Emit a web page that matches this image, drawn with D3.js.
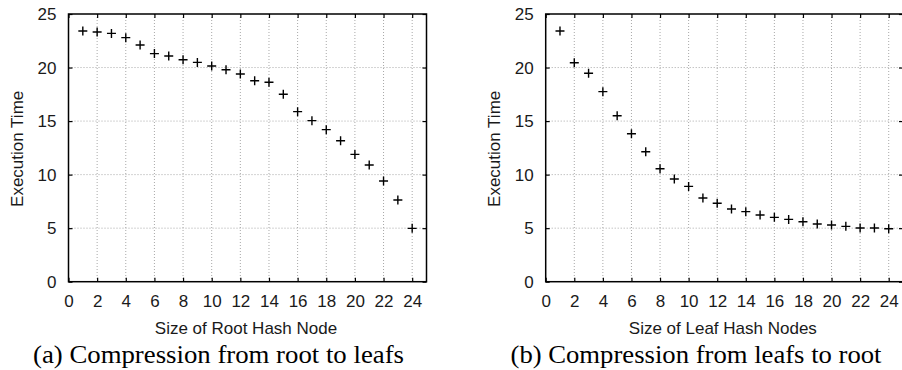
<!DOCTYPE html>
<html>
<head>
<meta charset="utf-8">
<script src="https://cdn.jsdelivr.net/npm/d3@7"></script>
<style>
  body { margin: 0; background: #fff; }
  svg { display: block; }
</style>
</head>
<body>
<div id="chart"></div>
<script>
// values
const sizes = [1, 2, 3, 4, 5, 6, 7, 8, 9, 10, 11, 12, 13, 14, 15, 16, 17, 18, 19, 20, 21, 22, 23, 24];
const rootToLeafTime = [23.41, 23.32, 23.19, 22.79, 22.10, 21.30, 21.08, 20.73, 20.48, 20.14, 19.80, 19.40,
  18.77, 18.62, 17.50, 15.88, 15.04, 14.20, 13.17, 11.89, 10.90, 9.40, 7.63, 4.98];
const leafToRootTime = [23.41, 20.45, 19.46, 17.75, 15.50, 13.82, 12.14, 10.55, 9.59, 8.90, 7.81, 7.32,
  6.79, 6.54, 6.23, 6.01, 5.82, 5.60, 5.39, 5.29, 5.17, 5.01, 5.01, 4.95];
const xTicks = [0, 2, 4, 6, 8, 10, 12, 14, 16, 18, 20, 22, 24];
const yTicks = [0, 5, 10, 15, 20, 25];
const yLabel = "Execution Time";
const xLabels = ["Size of Root Hash Node", "Size of Leaf Hash Nodes"];
const captions = ["(a) Compression from root to leafs", "(b) Compression from leafs to root"];

const width = 902, height = 370;
const sans = "'Liberation Sans', Arial, sans-serif";
const serif = "'Liberation Serif', 'Times New Roman', serif";
const ink = "#1a1a1a";

const svg = d3.select("#chart").append("svg")
  .attr("width", width).attr("height", height);
svg.append("rect").attr("width", width).attr("height", height).attr("fill", "#fff");

const drawPanel = (left, right, values, xLabel, caption, captionX) => {
  const top = 14, bottom = 281.7;
  const x = d3.scaleLinear().domain([0, 25]).range([left, right]);
  const y = d3.scaleLinear().domain([0, 25]).range([bottom, top]);
  const g = svg.append("g");

  // dotted grid
  g.append("g").selectAll("line.gx")
    .data(xTicks.filter(d => d > 0)).enter().append("line")
    .attr("x1", d => x(d)).attr("x2", d => x(d))
    .attr("y1", top).attr("y2", bottom)
    .attr("stroke", "#a8a8a8").attr("stroke-width", 1).attr("stroke-dasharray", "1,2");
  g.append("g").selectAll("line.gy")
    .data(yTicks.filter(d => d > 0 && d < 25)).enter().append("line")
    .attr("x1", left).attr("x2", right)
    .attr("y1", d => y(d)).attr("y2", d => y(d))
    .attr("stroke", "#a8a8a8").attr("stroke-width", 1).attr("stroke-dasharray", "1,2");

  // axes, ticks pointing inward on all four sides
  const axisB = g.append("g").attr("transform", "translate(0," + bottom + ")")
    .call(d3.axisBottom(x).tickValues(xTicks).tickSizeInner(-4).tickSizeOuter(0).tickPadding(13));
  const axisT = g.append("g").attr("transform", "translate(0," + top + ")")
    .call(d3.axisTop(x).tickValues(xTicks).tickSizeInner(-4).tickSizeOuter(0).tickFormat(""));
  const axisL = g.append("g").attr("transform", "translate(" + left + ",0)")
    .call(d3.axisLeft(y).tickValues(yTicks).tickSizeInner(-4).tickSizeOuter(0).tickPadding(12));
  const axisR = g.append("g").attr("transform", "translate(" + right + ",0)")
    .call(d3.axisRight(y).tickValues(yTicks).tickSizeInner(-4).tickSizeOuter(0).tickFormat(""));

  [axisB, axisT, axisL, axisR].forEach(a => {
    a.select(".domain").remove();
    a.selectAll(".tick line").attr("stroke", "#000").attr("stroke-width", 1.2);
    a.selectAll(".tick text").attr("fill", ink)
      .style("font-family", sans).style("font-size", "17px");
  });
  axisL.selectAll(".tick text").attr("dy", "0.34em");

  // frame
  g.append("rect")
    .attr("x", left).attr("y", top)
    .attr("width", right - left).attr("height", bottom - top)
    .attr("fill", "none").attr("stroke", "#000").attr("stroke-width", 1.5);

  // plus markers
  const data = sizes.map((s, i) => ({ s, v: values[i] }));
  g.append("g").selectAll("path.pt")
    .data(data).enter().append("path")
    .attr("transform", d => "translate(" + x(d.s) + "," + y(d.v) + ")")
    .attr("d", "M-4.5,0H4.5M0,-4.5V4.5")
    .attr("stroke", "#000").attr("stroke-width", 1.4).attr("fill", "none");

  // labels
  g.append("text")
    .attr("transform", "translate(" + (left - 45.5) + "," + ((top + bottom) / 2 + 1) + ") rotate(-90)")
    .attr("text-anchor", "middle")
    .style("font-family", sans).style("font-size", "17px").attr("fill", ink)
    .text(yLabel);
  g.append("text")
    .attr("x", (left + right) / 2 - 1.5).attr("y", 334)
    .attr("text-anchor", "middle")
    .style("font-family", sans).style("font-size", "17px").attr("fill", ink)
    .text(xLabel);
  g.append("text")
    .attr("x", captionX).attr("y", 363)
    .attr("text-anchor", "middle")
    .attr("textLength", 371).attr("lengthAdjust", "spacingAndGlyphs")
    .style("font-family", serif).style("font-size", "24.5px").attr("fill", "#000")
    .text(caption);
};

drawPanel(68.5, 426.5, rootToLeafTime, xLabels[0], captions[0], 218.5);
drawPanel(545.7, 903, leafToRootTime, xLabels[1], captions[1], 696);
</script>
</body>
</html>
